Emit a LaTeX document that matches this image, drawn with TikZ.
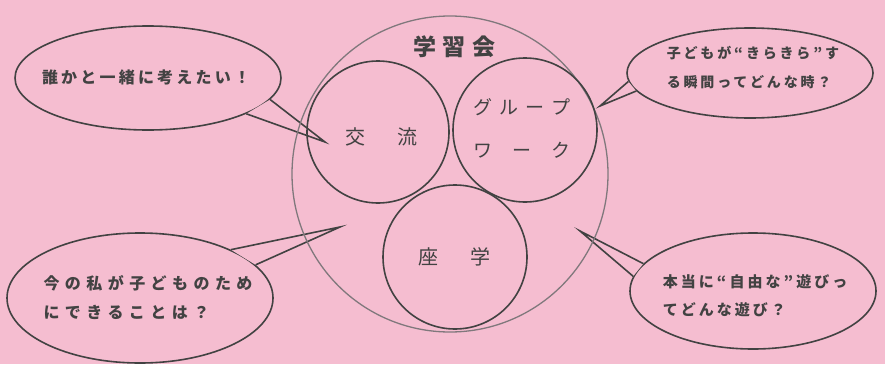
\documentclass[tikz,border=0pt]{standalone}
\usepackage{fontspec}
\usetikzlibrary{shapes.geometric}
\newfontfamily\cjk{Noto Sans CJK JP}
\newfontfamily\cjkA[LetterSpace=20]{Noto Sans CJK JP}
\newfontfamily\cjkB[LetterSpace=34]{Noto Sans CJK JP}
\newcommand\qq[1]{\makebox[1.05em]{#1}}
\definecolor{paper}{RGB}{245,189,208}
\definecolor{ink}{RGB}{66,66,66}
\definecolor{rim}{RGB}{128,120,124}

\tikzset{
	bubble/.style={ellipse,draw=ink,line width=1.6pt,inner sep=0pt},
	tail/.style={draw=ink,line width=1.6pt,line join=miter},
	ring/.style={circle,draw=ink,line width=1.6pt,inner sep=0pt,minimum size=#1},
	lbl/.style={text=ink,inner sep=0pt,align=left},
}

\begin{document}
\begin{tikzpicture}[x=1pt,y=-1pt]
	\fill[paper] (0,0) rectangle (885,364);
	\useasboundingbox (0,0) rectangle (885,364);
	% speech bubbles
	\node[bubble,minimum width=266pt,minimum height=104pt] (tl) at (148,78) {};
	\node[bubble,minimum width=246pt,minimum height=90pt] (tr) at (750,73) {};
	\node[bubble,minimum width=266pt,minimum height=130pt] (bl) at (140,298) {};
	\node[bubble,minimum width=246pt,minimum height=116pt] (br) at (753,291) {};
	\path
		(325,142) coordinate (tl-tip)
		(600,106) coordinate (tr-tip)
		(340,227) coordinate (bl-tip)
		(580,231) coordinate (br-tip)
		;
	\fill[paper]
		(tl.-10.8) -- (tl-tip) -- (tl.-20.3) -- cycle
		(tr.184.9) -- (tr-tip) -- (tr.189.8) -- cycle
		(bl.28.6) -- (bl-tip) -- (bl.16.7) -- cycle
		(br.166.5) -- (br-tip) -- (br.173.7) -- cycle
		;
	\draw[tail] (tl.-10.8) -- (tl-tip) -- (tl.-20.3);
	\draw[tail] (tr.184.9) -- (tr-tip) -- (tr.189.8);
	\draw[tail] (bl.28.6) -- (bl-tip) -- (bl.16.7);
	\draw[tail] (br.166.5) -- (br-tip) -- (br.173.7);
	% circles
	\node[ring=316pt,draw=rim,line width=1.3pt] (kai) at (450,174) {};
	\node[ring=142pt] (koryu) at (378,132) {};
	\node[ring=144pt] (group) at (525,130) {};
	\node[ring=144pt] (zagaku) at (455,257) {};
	% texts
	\node[lbl,font=\cjk\bfseries\fontsize{23}{26}\selectfont] (kai-txt) at (454,47)
		{\makebox[82pt][s]{学\hfill 習\hfill 会}};
	\node[lbl,font=\cjk\fontsize{20}{24}\selectfont] (koryu-txt) at (381,137)
		{\makebox[72pt][s]{交\hfill 流}};
	\node[lbl,font=\cjk\fontsize{19}{43}\selectfont] (group-txt) at (522,128)
		{\makebox[97pt][s]{グ\hfill ル\hfill ー\hfill プ}\\
		 \makebox[97pt][s]{ワ\hfill ー\hfill ク}};
	\node[lbl,font=\cjk\fontsize{20}{24}\selectfont] (zagaku-txt) at (454,257)
		{\makebox[72pt][s]{座\hfill 学}};
	\node[lbl,font=\cjkA\bfseries\fontsize{16}{29}\selectfont] (tl-txt) at (146,77)
		{誰かと一緒に考えたい！};
	\node[lbl,font=\cjkA\bfseries\fontsize{14}{29}\selectfont] (tr-txt) at (753,68)
		{子どもが\qq{“}きらきら\qq{”}す\\る瞬間ってどんな時？};
	\node[lbl,font=\cjkB\bfseries\fontsize{16}{29}\selectfont] (bl-txt) at (148,298)
		{今の私が子どものため\\にできることは？};
	\node[lbl,font=\cjkA\bfseries\fontsize{15}{28}\selectfont] (br-txt) at (755,296)
		{本当に\qq{“}自由な\qq{”}遊びっ\\てどんな遊び？};
\end{tikzpicture}
\end{document}
